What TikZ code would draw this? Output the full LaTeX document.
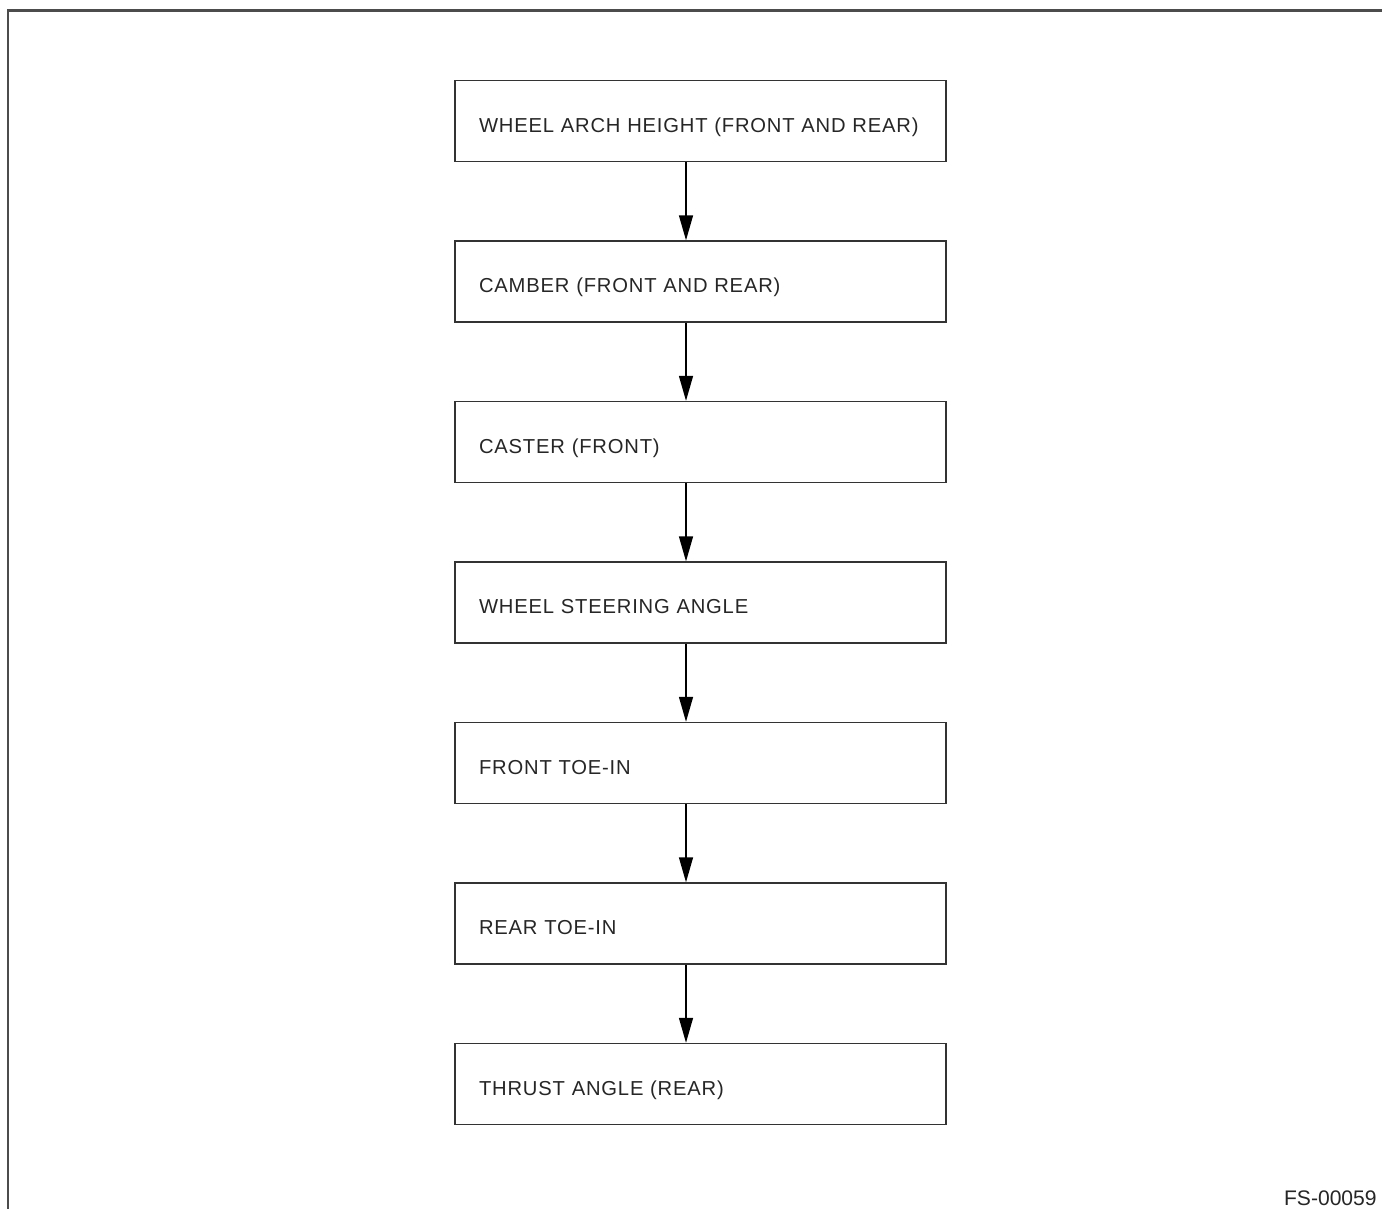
\documentclass[tikz,border=0pt]{standalone}
\usepackage{fontspec}
\setmainfont{Liberation Sans}
\newfontfamily\boxfont[LetterSpace=4]{Liberation Sans}
\usetikzlibrary{arrows.meta}

\tikzset{
  stepbox/.style={draw=black!80, line width=0.8pt, rectangle,
    minimum width=9.82cm, minimum height=1.62cm, inner xsep=0.48cm,
    text width=8.86cm, align=left, text height=0.45cm, text depth=0cm,
    text=black!85, font=\boxfont\fontsize{11.5}{13}\selectfont},
  flow/.style={line width=0.8pt, -{Triangle[length=0.5cm,width=0.28cm]}}
}

\begin{document}
\begin{tikzpicture}[x=0.02cm,y=-0.02cm]
\useasboundingbox (0,0) rectangle (1382,1209);
% frame
\draw[black!70,line width=1.4pt] (1382,10.5) -- (8,10.5) -- (8,1209);
\coordinate (ax) at (686,0);
\node[stepbox] (arch) at (700.5,121) {WHEEL ARCH HEIGHT (FRONT AND REAR)};
\node[stepbox] (camber) at (700.5,281.5) {CAMBER (FRONT AND REAR)};
\node[stepbox] (caster) at (700.5,442) {CASTER (FRONT)};
\node[stepbox] (steer) at (700.5,602.5) {WHEEL STEERING ANGLE};
\node[stepbox] (ftoe) at (700.5,763) {FRONT TOE-IN};
\node[stepbox] (rtoe) at (700.5,923.5) {REAR TOE-IN};
\node[stepbox] (thrust) at (700.5,1084) {THRUST ANGLE (REAR)};
\foreach \a/\b in {arch/camber,camber/caster,caster/steer,steer/ftoe,ftoe/rtoe,rtoe/thrust}
  \draw[flow] (\a.south -| ax) -- (\b.north -| ax);
\node[anchor=base east, inner sep=0pt, text=black!85, font=\fontsize{12}{14}\selectfont] (code) at (1377,1205) {FS-00059};
\end{tikzpicture}
\end{document}
